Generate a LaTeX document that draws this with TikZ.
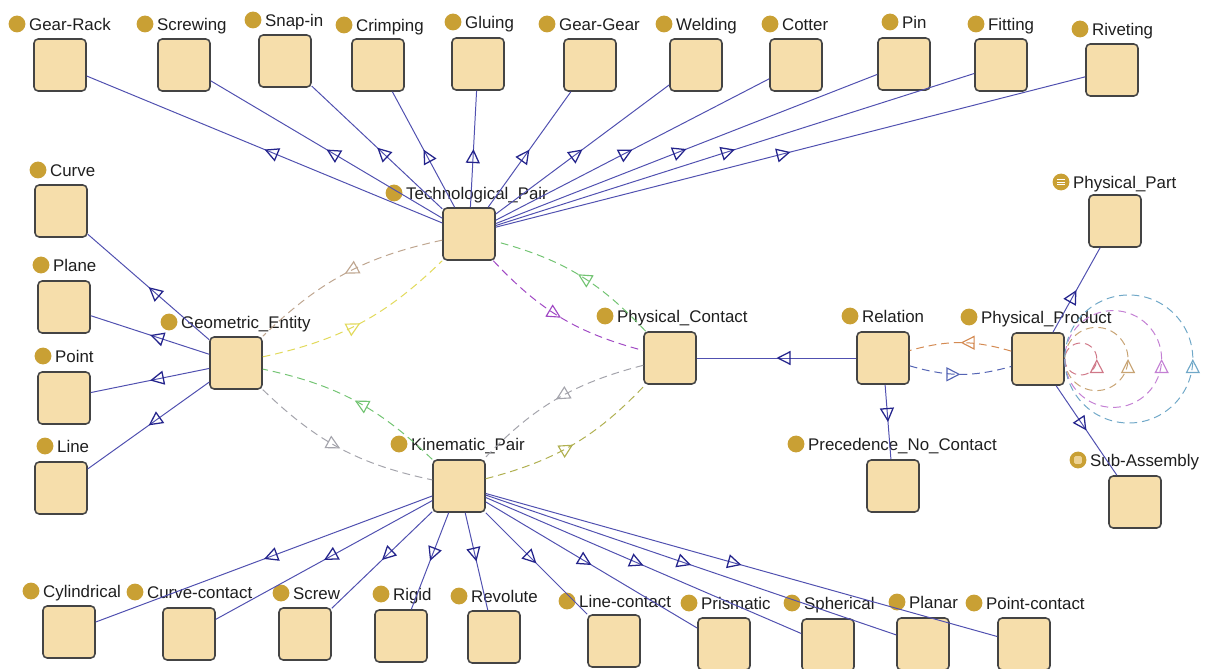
\documentclass[tikz,border=0pt]{standalone}
\usepackage{fontspec}
\setmainfont{Liberation Sans}
\usetikzlibrary{positioning,arrows.meta,decorations.markings}
\definecolor{boxbg}{HTML}{F6DEAB}
\definecolor{boxln}{HTML}{444444}
\definecolor{gold}{HTML}{C9A034}
\definecolor{isa}{HTML}{5050B0}
\definecolor{isatip}{HTML}{24248C}
\definecolor{tanc}{HTML}{BFA690}
\definecolor{yelc}{HTML}{E2DA5A}
\definecolor{grnc}{HTML}{72C472}
\definecolor{purc}{HTML}{A048C4}
\definecolor{gryc}{HTML}{A4A4AC}
\definecolor{olvc}{HTML}{B0B050}
\definecolor{orgc}{HTML}{D48A52}
\definecolor{bluc}{HTML}{5464B4}
\definecolor{rosec}{HTML}{D07888}
\definecolor{sandc}{HTML}{C8A474}
\definecolor{violc}{HTML}{C480D4}
\definecolor{tealc}{HTML}{70A8C8}

\begin{document}
\begin{tikzpicture}[x=0.025cm,y=-0.025cm,font=\fontsize{12}{14}\selectfont,
  cls/.style={draw=boxln,fill=boxbg,line width=1.1pt,rounded corners=3pt,minimum width=1.3cm,minimum height=1.3cm,inner sep=0pt},
  dot/.style={circle,fill=gold,minimum size=0.42cm,inner sep=0pt},
  lbl/.style={inner sep=0pt,text height=8.6pt,text depth=0pt,text=black!88},
  isaedge/.style={draw=isa,line width=0.7pt,postaction={decorate},
    decoration={markings,mark=at position 0.5 with {\arrow[isatip,line width=0.9pt]{Triangle[open,length=10pt,width=10pt]}}}},
  prop/.style={draw=#1,line width=0.7pt,dash pattern=on 5.5pt off 3.5pt,postaction={decorate},
    decoration={markings,mark=at position 0.5 with {\arrow[#1,line width=0.8pt]{Triangle[open,length=10pt,width=10pt]}}}}]
\fill[white] (0,0) rectangle (1209,669);
\useasboundingbox (0,0) rectangle (1209,669);
% ---------- classes: box, dot, name ----------
\foreach \n/\x/\y/\dx/\dy/\t in {
  gr/60/65/17/24/Gear-Rack, sw/184/65/145/24/Screwing, sn/285/61/253/20/Snap-in,
  cr/378/65/344/25/Crimping, gl/478/64/453/22/Gluing, gg/590/65/547/24/Gear-Gear,
  we/696/65/664/24/Welding, co/796/65/770/24/Cotter, pi/904/64/890/22/Pin,
  fi/1001/65/976/24/Fitting, ri/1112/70/1080/29/Riveting,
  cu/61/211/38/170/Curve, pl/64/307/41/265/Plane, po/64/398/43/356/Point, li/61/488/45/446/Line,
  ge/236/363/169/322/Geometric\_Entity, tp/469/234/394/193/Technological\_Pair,
  kp/459/486/399/444/Kinematic\_Pair, pc/670/358/605/316/Physical\_Contact,
  re/883/358/850/316/Relation, pp/1038/359/969/317/Physical\_Product,
  pn/893/486/796/444/Precedence\_No\_Contact,
  cy/69/632/31/591/Cylindrical, cc/189/634/135/592/Curve-contact, sr/305/634/281/593/Screw,
  rg/401/636/381/594/Rigid, rv/494/637/459/596/Revolute, lc/614/641/567/601/Line-contact,
  pr/724/644/689/603/Prismatic, sp/828/645/792/603/Spherical, plr/923/644/897/602/Planar,
  pt/1024/644/974/603/Point-contact}{
  \node[cls] (\n) at (\x,\y) {};
  \node[dot] (\n d) at (\dx,\dy) {};
  \node[lbl,right=0.08cm of \n d] (\n t) {\t};
}
% defined classes with icon dots
\node[cls] (pa) at (1115,221) {};
\node[dot,path picture={\draw[white,line width=0.7pt]
  ([xshift=-2.6pt,yshift=2pt]path picture bounding box.center) -- ++(5.2pt,0)
  ([xshift=-2.6pt]path picture bounding box.center) -- ++(5.2pt,0)
  ([xshift=-2.6pt,yshift=-2pt]path picture bounding box.center) -- ++(5.2pt,0);}] (pad) at (1061,182) {};
\node[lbl,right=0.08cm of pad] (pat) {Physical\_Part};
\node[cls] (sa) at (1135,502) {};
\node[dot,path picture={\fill[boxbg!80!gold,rounded corners=1pt]
  ([xshift=-2.8pt,yshift=-2.8pt]path picture bounding box.center) rectangle ++(5.6pt,5.6pt);}] (sad) at (1078,460) {};
\node[lbl,right=0.08cm of sad] (sat) {Sub-Assembly};
% ---------- subclass edges ----------
\foreach \c in {gr,sw,sn,cr,gl,gg,we,co,pi,fi,ri} \draw[isaedge] (tp) -- (\c);
\foreach \c in {cu,pl,po,li} \draw[isaedge] (ge) -- (\c);
\foreach \c in {cy,cc,sr,rg,rv,lc,pr,sp,plr,pt} \draw[isaedge] (kp) -- (\c);
\draw[isaedge] (re) -- (pc);
\draw[isaedge] (re) -- (pn);
\draw[isaedge] (pp) -- (pa);
\draw[isaedge] (pp) -- (sa);
% ---------- object properties ----------
\draw[prop=tanc] (tp) to[bend right=16] (ge);
\draw[prop=yelc] (ge) to[bend right=16] (tp);
\draw[prop=grnc] (pc) to[bend right=16] (tp);
\draw[prop=purc] (tp) to[bend right=16] (pc);
\draw[prop=grnc] (kp) to[bend right=16] (ge);
\draw[prop=gryc] (ge) to[bend right=16] (kp);
\draw[prop=gryc] (pc) to[bend right=16] (kp);
\draw[prop=olvc] (kp) to[bend right=16] (pc);
\draw[prop=orgc] (pp) to[bend right=16] (re);
\draw[prop=bluc] (re) to[bend right=16] (pp);
% self loops on Physical_Product
\draw[prop=rosec] (pp.east) arc[start angle=180,end angle=540,radius=0.4cm];
\draw[prop=sandc] (pp.east) arc[start angle=180,end angle=540,radius=0.79cm];
\draw[prop=violc] (pp.east) arc[start angle=180,end angle=540,radius=1.21cm];
\draw[prop=tealc] (pp.east) arc[start angle=180,end angle=540,radius=1.6cm];
\end{tikzpicture}
\end{document}
